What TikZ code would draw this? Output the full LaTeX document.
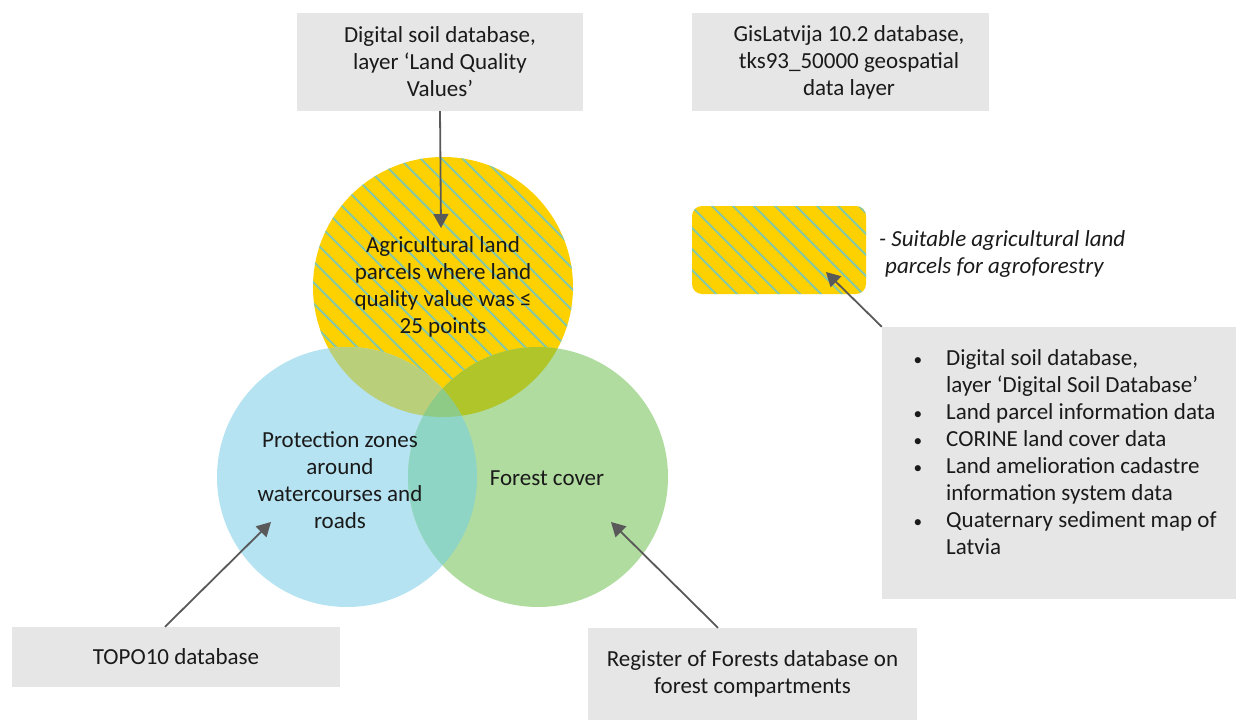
\documentclass[tikz,border=0pt]{standalone}
\usepackage{fontspec}
\setmainfont{Carlito}
\usetikzlibrary{arrows.meta}
\definecolor{ylw}{HTML}{FDD000}
\definecolor{hatchc}{HTML}{86C9A6}
\definecolor{blu}{HTML}{B5E3F2}
\definecolor{grn}{HTML}{B0DC9F}
\definecolor{yb}{HTML}{BACF7A}
\definecolor{yg}{HTML}{AFC52A}
\definecolor{bg}{HTML}{8ED5C5}
\definecolor{ybg}{HTML}{8ECB86}
\definecolor{boxc}{HTML}{E6E6E6}
\definecolor{arrc}{HTML}{595959}
\definecolor{txt}{HTML}{1A1A1A}
\newcommand{\bul}{\llap{\scalebox{0.75}{•}\hspace{24pt}}}
\begin{document}
\begin{tikzpicture}[x=1pt,y=-1pt,
  every node/.style={text=txt, font=\fontsize{23}{27}\selectfont},
  box/.style={fill=boxc, draw=none, inner sep=0pt, align=center},
  lbl/.style={align=center, inner sep=0pt},
  arr/.style={draw=arrc, line width=1.8pt, -{Triangle[length=14pt,width=15pt]}},
  hatch/.style={draw=hatchc, line width=2pt}]
\useasboundingbox (0,0) rectangle (1236,720);
% --- circles ---
\fill[ylw] (443,287) circle[radius=130pt];
\begin{scope}
  \clip (443,287) circle[radius=130pt];
  \foreach \i in {0,...,35} {\draw[hatch] (13+\i*21,150) -- ++(300,300);}
\end{scope}
\fill[blu] (347,477) circle[radius=130pt];
\fill[grn] (538,477) circle[radius=130pt];
\begin{scope}
  \clip (443,287) circle[radius=130pt];
  \fill[yb] (347,477) circle[radius=130pt];
  \fill[yg] (538,477) circle[radius=130pt];
\end{scope}
\begin{scope}
  \clip (347,477) circle[radius=130pt];
  \fill[bg] (538,477) circle[radius=130pt];
  \clip (538,477) circle[radius=130pt];
  \fill[ybg] (443,287) circle[radius=130pt];
\end{scope}
% --- circle labels ---
\node[lbl] (ytext) at (443,287) {Agricultural land\\parcels where land\\quality value was ≤\\25 points};
\node[lbl] (btext) at (340,480) {Protection zones\\around\\watercourses and\\roads};
\node[lbl] (gtext) at (547,478) {Forest cover};
% --- legend ---
\fill[ylw, rounded corners=10pt] (692,206) rectangle (866,294);
\begin{scope}
  \clip[rounded corners=10pt] (692,206) rectangle (866,294);
  \foreach \i in {0,...,17} {\draw[hatch] (580+\i*21,200) -- ++(200,200);}
\end{scope}
\node[lbl, anchor=west, align=left, font=\fontsize{23}{27}\selectfont\itshape] (legtext) at (879,254) {- Suitable agricultural land\\\hspace*{6pt}parcels for agroforestry};
% --- boxes ---
\node[box, minimum width=286pt, minimum height=98pt] (b1) at (440,62) {Digital soil database,\\layer ‘Land Quality\\Values’};
\node[box, minimum width=297pt, minimum height=98pt] (b2) at (840.5,62) {\hspace*{17pt}GisLatvija 10.2 database,\\\hspace*{17pt}tks93\_50000 geospatial\\\hspace*{17pt}data layer};
\node[box, minimum width=354pt, minimum height=272pt] (rb) at (1059,463) {};
\node[lbl, anchor=north west, align=left] (rbtext) at (946,349) {%
\bul Digital soil database,\\
layer ‘Digital Soil Database’\\
\bul Land parcel information data\\
\bul CORINE land cover data\\
\bul Land amelioration cadastre\\
information system data\\
\bul Quaternary sediment map of\\
Latvia};
\node[box, minimum width=328pt, minimum height=60pt] (bl) at (176,657) {TOPO10 database};
\node[box, minimum width=329pt, minimum height=92pt] (br) at (752.5,674) {Register of Forests database on\\forest compartments};
% --- connectors ---
\coordinate (ytip) at (441,228);
\coordinate (btip) at (271,522);
\coordinate (gtip) at (611,522);
\coordinate (ltip) at (826,272);
\draw[arr] (b1.south) -- (ytip);
\draw[arr] ([xshift=-11pt]bl.north) -- (btip);
\draw[arr] ([xshift=-34.5pt]br.north) -- (gtip);
\draw[arr] (rb.north west) -- (ltip);
\end{tikzpicture}
\end{document}
